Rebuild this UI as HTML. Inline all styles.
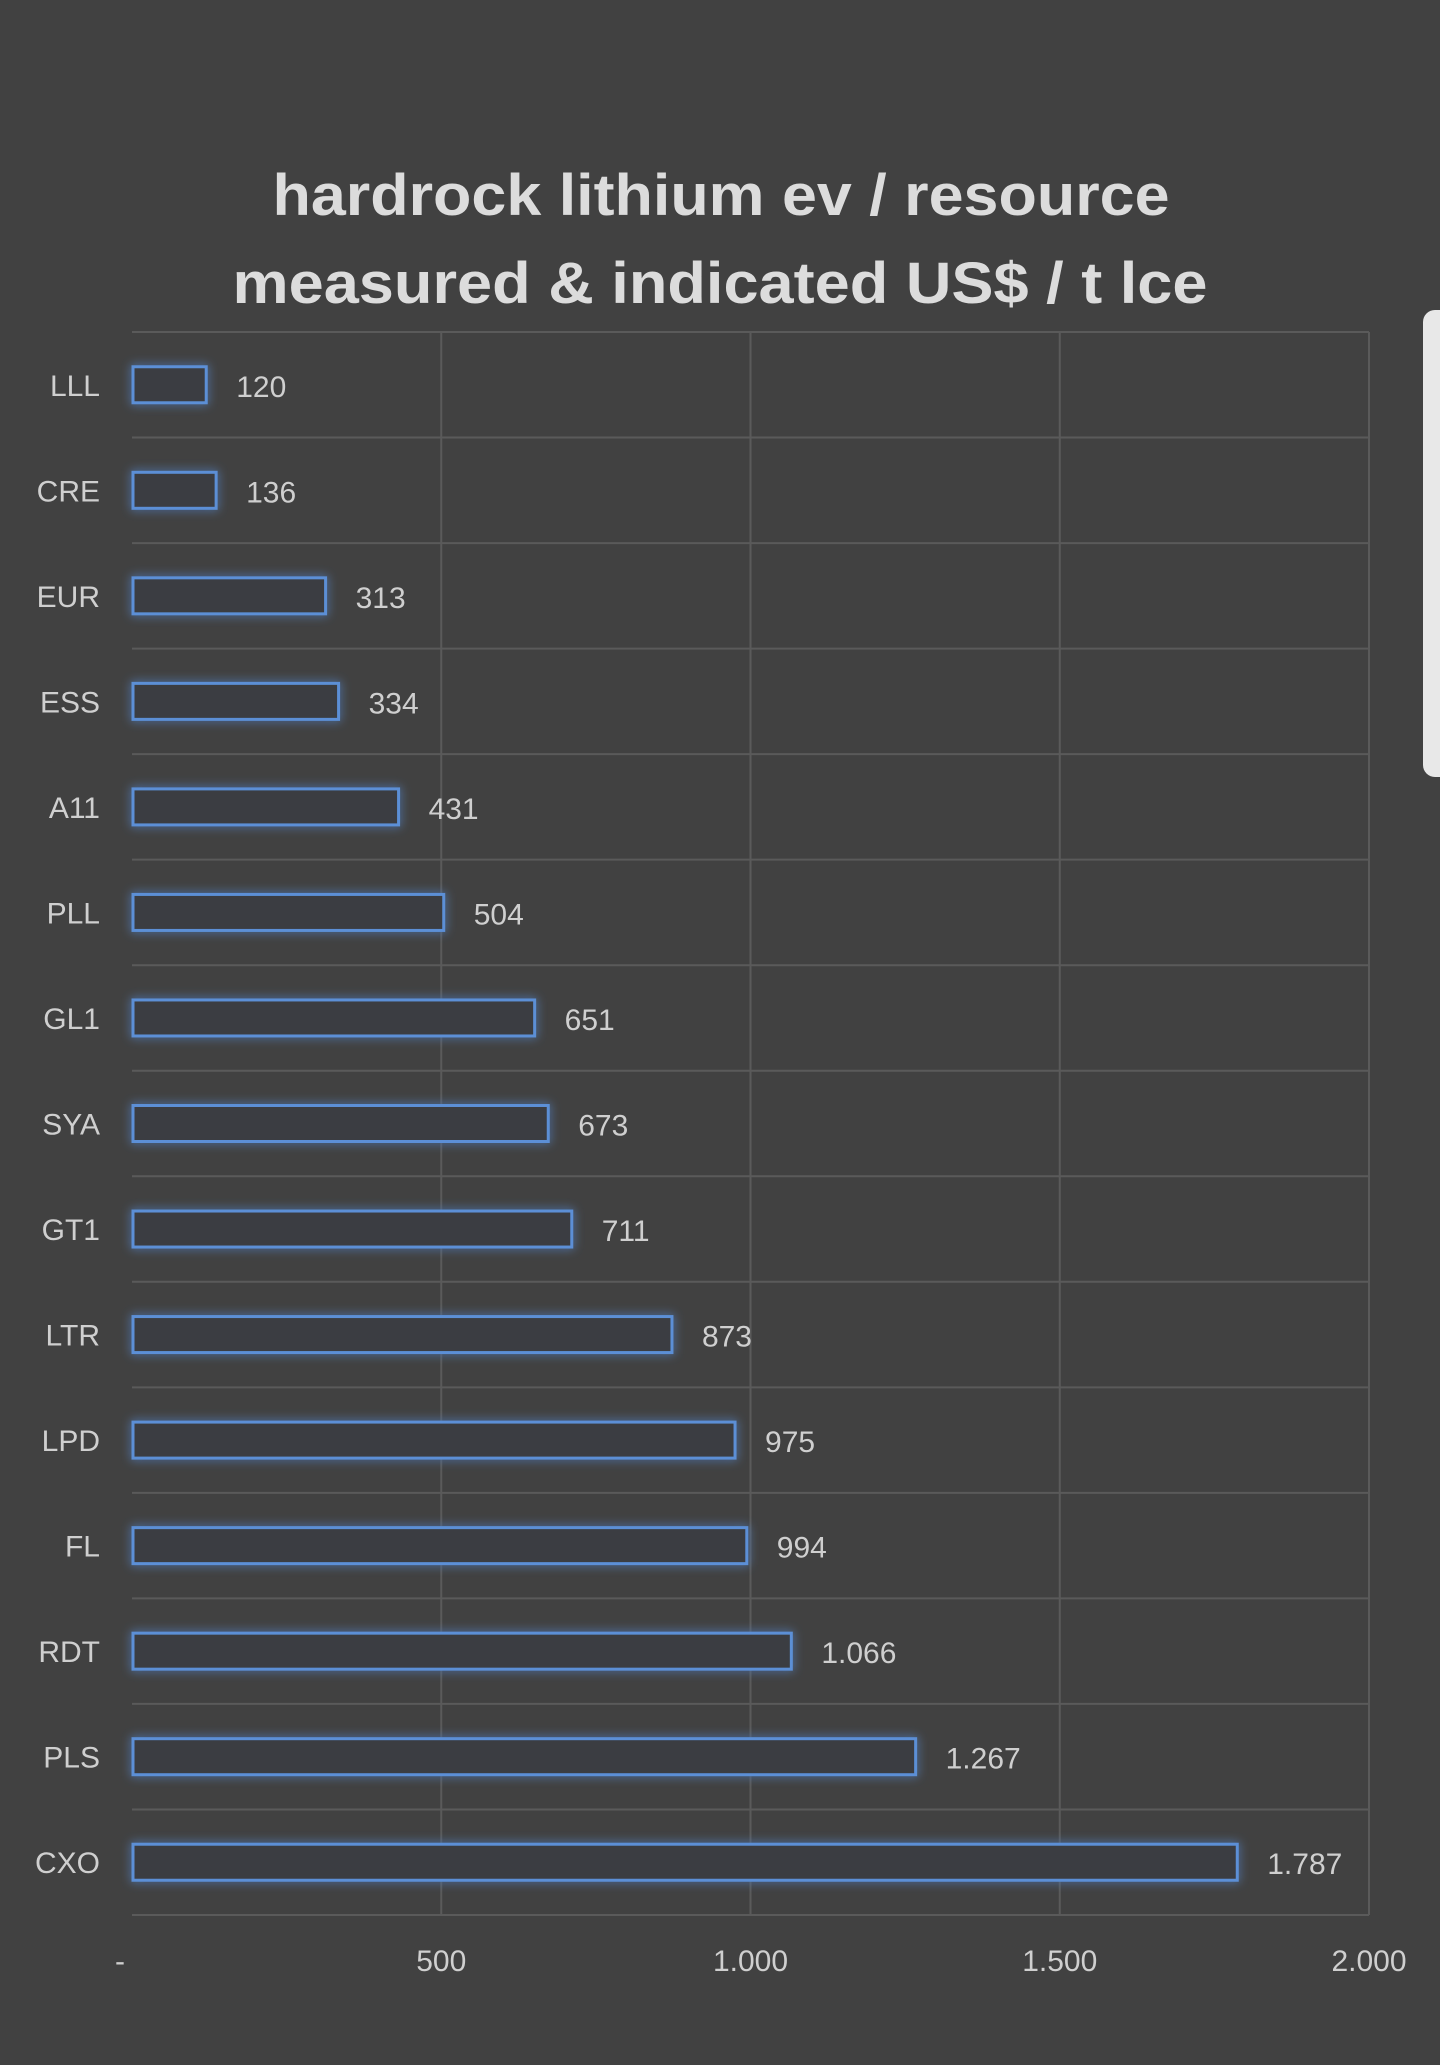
<!DOCTYPE html>
<html><head><meta charset="utf-8"><style>
html,body{margin:0;padding:0;background:#414141;}
svg{display:block;}
</style></head><body>
<svg id="chart" width="1440" height="2065" viewBox="0 0 1440 2065" xmlns="http://www.w3.org/2000/svg">
<defs>
<filter id="glow" x="-20%" y="-60%" width="140%" height="220%">
<feGaussianBlur stdDeviation="5" result="b"/>
<feMerge><feMergeNode in="b"/><feMergeNode in="SourceGraphic"/></feMerge>
</filter>
</defs>
<rect x="0" y="0" width="1440" height="2065" fill="#414141"/>
<text x="721" y="215" text-anchor="middle" font-family="Liberation Sans, sans-serif" font-weight="bold" font-size="58" fill="#dcdcdc" textLength="897" lengthAdjust="spacingAndGlyphs">hardrock lithium ev / resource</text>
<text x="720" y="303" text-anchor="middle" font-family="Liberation Sans, sans-serif" font-weight="bold" font-size="58" fill="#dcdcdc" textLength="975" lengthAdjust="spacingAndGlyphs">measured &amp; indicated US$ / t lce</text>
<g id="grid"></g>
<g id="bars"></g>
<g id="labels"></g>
<rect x="1423" y="310" width="30" height="467" rx="12" fill="#e8e8e8"/>
</svg>
<script>
const categories = ["LLL","CRE","EUR","ESS","A11","PLL","GL1","SYA","GT1","LTR","LPD","FL","RDT","PLS","CXO"];
const values = [120,136,313,334,431,504,651,673,711,873,975,994,1066,1267,1787];
const valueLabels = ["120","136","313","334","431","504","651","673","711","873","975","994","1.066","1.267","1.787"];
const ticks = [0,500,1000,1500,2000];
const tickLabels = ["-","500","1.000","1.500","2.000"];

const NS = "http://www.w3.org/2000/svg";
const plotL = 132, plotR = 1369, plotT = 332, plotB = 1915, xMax = 2000;
const rowH = (plotB - plotT) / categories.length;
const xs = v => plotL + (v / xMax) * (plotR - plotL);
const yc = i => plotT + rowH * (i + 0.5);
function mk(tag, attrs, parent){ const e=document.createElementNS(NS,tag); for(const k in attrs) e.setAttribute(k,attrs[k]); parent.appendChild(e); return e; }

const grid = document.getElementById('grid');
const bars = document.getElementById('bars');
const labels = document.getElementById('labels');
const gc = "#5a5a5a";

for (let i = 0; i <= categories.length; i++) {
  const y = plotT + rowH * i;
  const l = mk('line',{x1:plotL,x2:plotR,y1:y,y2:y,stroke:gc,'stroke-width':2},grid);
  
  
}
ticks.forEach((t, i) => {
  if (t === 0) return;
  const x = xs(t);
  const l = mk('line',{x1:x,x2:x,y1:plotT,y2:plotB,stroke:gc,'stroke-width':2},grid);
  
  
});
ticks.forEach((t, i) => {
  const tx = mk('text',{x:xs(t)-(t===0?12:0),y:1971,'text-anchor':'middle','font-family':'Liberation Sans, sans-serif','font-size':30,fill:'#cfcfcf'},labels);
  tx.textContent = tickLabels[i];
  
  
});

categories.forEach((c, i) => {
  const y = yc(i), h = 36;
  const r = mk('rect',{x:plotL+1,y:y-h/2,width:xs(values[i])-plotL-1,height:h,fill:'#3a3d42',stroke:'#5b8fd6','stroke-width':3,filter:'url(#glow)'},bars);
  
  
  const cl = mk('text',{x:100,y:y+11,'text-anchor':'end','font-family':'Liberation Sans, sans-serif','font-size':30,fill:'#cfcfcf'},labels);
  cl.textContent = c;
  
  
  const vl = mk('text',{x:xs(values[i])+30,y:y+12,'font-family':'Liberation Sans, sans-serif','font-size':30,fill:'#cfcfcf'},labels);
  vl.textContent = valueLabels[i];
  
  
});
</script>
</body></html>
